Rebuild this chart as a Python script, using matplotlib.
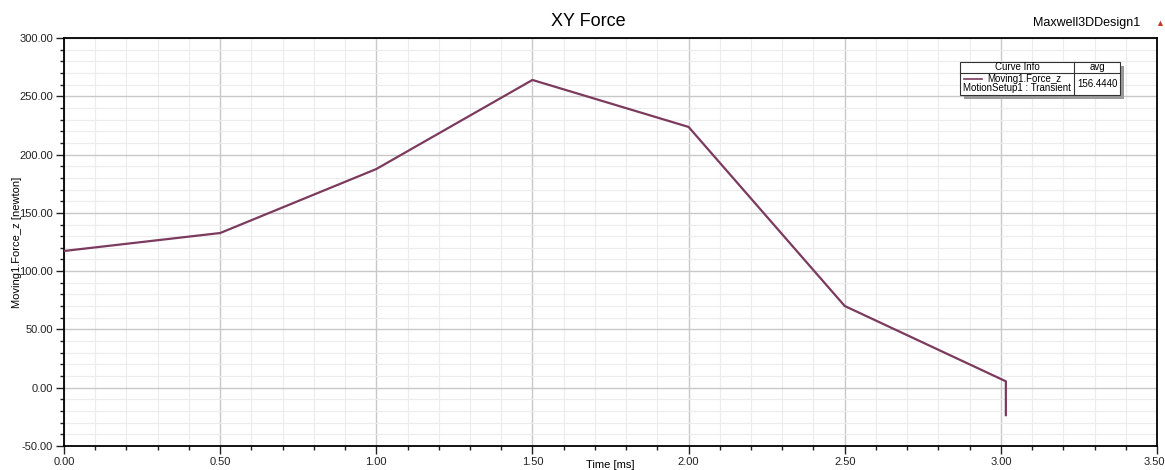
import numpy as np
import matplotlib.pyplot as plt
from matplotlib.ticker import MultipleLocator, FuncFormatter, FormatStrFormatter
from matplotlib.patches import Rectangle
from matplotlib.lines import Line2D

plt.rcParams['font.family'] = ['Liberation Sans', 'DejaVu Sans']

time_ms = [0.0, 0.5, 1.0, 1.5, 2.0, 2.5, 3.016, 3.016]
force_z = [117.3, 132.7, 187.6, 264.0, 223.7, 70.1, 5.5, -23.5]
avg_force = 156.4440

x_max = 3.5
line_color = '#7b3a5e'

fig = plt.figure(figsize=(11.65, 4.7), dpi=100)
W, H = 1165, 470
ax = fig.add_axes([64 / W, (H - 446) / H, (1157 - 64) / W, (446 - 38) / H])

ax.plot(time_ms, force_z, color=line_color, lw=1.6, zorder=3)

ax.set_xlim(0, x_max)
ax.set_ylim(-50, 300)
ax.xaxis.set_major_locator(MultipleLocator(0.5))
ax.xaxis.set_minor_locator(MultipleLocator(0.1))
ax.yaxis.set_major_locator(MultipleLocator(50))
ax.yaxis.set_minor_locator(MultipleLocator(10))
# the label at the right end is placed separately so it stays inside the figure
ax.xaxis.set_major_formatter(FuncFormatter(lambda v, p: '' if abs(v - x_max) < 1e-9 else f'{v:.2f}'))
ax.yaxis.set_major_formatter(FormatStrFormatter('%.2f'))
ax.annotate(f'{x_max:.2f}', xy=(1, 0), xycoords='axes fraction', xytext=(-2, -8),
            textcoords='offset points', ha='center', va='top', fontsize=8, color='#222222')

ax.grid(which='major', color='#c8c8c8', lw=1.0)
ax.grid(which='minor', color='#ececec', lw=0.8)
ax.set_axisbelow(True)

for side in ['top', 'right']:
    ax.spines[side].set_visible(False)
for side in ['left', 'bottom']:
    ax.spines[side].set_linewidth(1.3)
ax.plot([0, 1], [1, 1], transform=ax.transAxes, color='black', lw=1.3, clip_on=False)
ax.plot([1, 1], [0, 1], transform=ax.transAxes, color='black', lw=1.3, clip_on=False)

ax.tick_params(which='major', direction='out', length=6, width=1, labelsize=8,
               colors='#222222', pad=2)
ax.tick_params(which='minor', direction='out', length=3, width=1, colors='#222222')
ax.tick_params(axis='x', which='both', top=False)
ax.tick_params(axis='y', which='both', right=False)

ax.set_xlabel('Time [ms]', fontsize=8, labelpad=-5)
ax.set_ylabel('Moving1.Force_z [newton]', fontsize=8, labelpad=-2)

fig.text(588 / W, 1 - 22 / H, 'XY Force', ha='center', va='center', fontsize=13)
fig.text(1140 / W, 1 - 23 / H, 'Maxwell3DDesign1', ha='right', va='center', fontsize=9)
fig.text(1160 / W, 1 - 23 / H, '\u25b2', ha='center', va='center', fontsize=6.5, color='#c0392b')

# curve info box in pixel coordinates
def px_rect(x0, y0, x1, y1, **kw):
    fig.patches.append(Rectangle((x0 / W, 1 - y1 / H), (x1 - x0) / W, (y1 - y0) / H,
                                 transform=fig.transFigure, **kw))

bx0, bx1, bmid = 960, 1120, 1074
by0, bhead, by1 = 62, 73, 95
px_rect(bx0 + 4, by0 + 4, bx1 + 4, by1 + 4, facecolor='#9a9a9a', edgecolor='none', zorder=5)
px_rect(bx0, by0, bx1, by1, facecolor='white', edgecolor='#333333', lw=0.8, zorder=6)
fig.add_artist(Line2D([bx0 / W, bx1 / W], [1 - bhead / H] * 2, color='#333333', lw=0.8, zorder=7))
fig.add_artist(Line2D([bmid / W] * 2, [1 - by0 / H, 1 - by1 / H], color='#333333', lw=0.8, zorder=7))
fig.text((bx0 + bmid) / 2 / W, 1 - 67.5 / H, 'Curve Info', ha='center', va='center', fontsize=7, zorder=8)
fig.text((bmid + bx1) / 2 / W, 1 - 67.5 / H, 'avg', ha='center', va='center', fontsize=7, zorder=8)
fig.add_artist(Line2D([964 / W, 982 / W], [1 - 79 / H] * 2, color=line_color, lw=1.2, zorder=8))
fig.text(1024 / W, 1 - 79 / H, 'Moving1.Force_z', ha='center', va='center', fontsize=7, zorder=8)
fig.text(1017 / W, 1 - 88 / H, 'MotionSetup1 : Transient', ha='center', va='center', fontsize=7, zorder=8)
fig.text((bmid + bx1) / 2 / W, 1 - 84 / H, f'{avg_force:.4f}', ha='center', va='center', fontsize=7, zorder=8)

fig.savefig('out.png', dpi=100)
